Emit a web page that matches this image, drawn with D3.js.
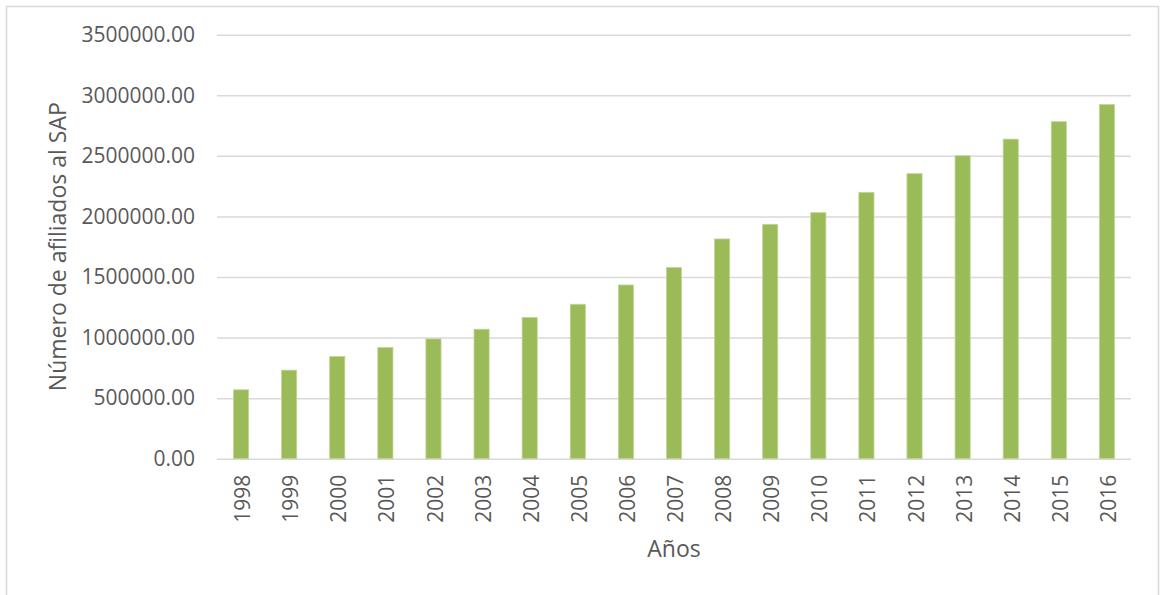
<!DOCTYPE html>
<html>
<head>
<meta charset="utf-8">
<script src="https://cdn.jsdelivr.net/npm/d3@7/dist/d3.min.js"></script>
<style>
  html, body { margin: 0; padding: 0; background: #ffffff; }
  svg { display: block; }
  text { font-family: "Open Sans", "Noto Sans", sans-serif; fill: #595959; }
</style>
</head>
<body>
<svg id="chart" width="1160" height="595"></svg>
<script>
// Afiliados al SAP por año
const years = ["1998","1999","2000","2001","2002","2003","2004","2005","2006","2007",
               "2008","2009","2010","2011","2012","2013","2014","2015","2016"];
const afiliados = [569000, 731000, 844000, 918000, 989000, 1069000, 1166000, 1275000,
                   1434000, 1578000, 1814000, 1935000, 2031000, 2199000, 2353000,
                   2501000, 2638000, 2782000, 2924000];
const yTicks = [0, 500000, 1000000, 1500000, 2000000, 2500000, 3000000, 3500000];

const svg = d3.select("#chart");

// chart area frame (runs past the bottom edge)
svg.append("rect")
  .attr("x", 6.5).attr("y", 6.5)
  .attr("width", 1152).attr("height", 620)
  .attr("fill", "#ffffff")
  .attr("stroke", "#d9d9d9")
  .attr("stroke-width", 1.5);

const plot = { left: 217, right: 1131, top: 34.7, bottom: 458.7 };

const x = d3.scaleBand().domain(years).range([plot.left, plot.right]).padding(0);
const y = d3.scaleLinear().domain([0, 3500000]).range([plot.bottom, plot.top]);

// gridlines + y tick labels
const yAxis = d3.axisLeft(y)
  .tickValues(yTicks)
  .tickSize(-(plot.right - plot.left))
  .tickPadding(22)
  .tickFormat(d3.format(".2f"));

const gy = svg.append("g")
  .attr("transform", `translate(${plot.left},0)`)
  .call(yAxis);
gy.select(".domain").remove();
gy.selectAll(".tick line").attr("stroke", "#d9d9d9").attr("stroke-width", 1.5);
gy.selectAll(".tick text")
  .style("font-family", "'Open Sans', sans-serif")
  .style("font-size", "21px")
  .attr("fill", "#595959");

// bars
const barW = x.bandwidth() * 0.315;
svg.append("g").selectAll("rect")
  .data(afiliados)
  .join("rect")
  .attr("x", (d, i) => x(years[i]) + (x.bandwidth() - barW) / 2)
  .attr("y", d => y(d))
  .attr("width", barW)
  .attr("height", d => y(0) - y(d))
  .attr("fill", "#9bbb59")
  .attr("stroke", "#c3d69b")
  .attr("stroke-width", 0.8);

// x axis labels (rotated)
const xAxis = d3.axisBottom(x).tickSize(0).tickPadding(0);
const gx = svg.append("g")
  .attr("transform", `translate(0,${plot.bottom})`)
  .call(xAxis);
gx.select(".domain").remove();
gx.selectAll(".tick text")
  .style("font-family", "'Open Sans', sans-serif")
  .style("font-size", "21px")
  .attr("fill", "#595959")
  .attr("text-anchor", "end")
  .attr("transform", "translate(1.5,16) rotate(-90)")
  .attr("x", 0)
  .attr("y", 0)
  .attr("dy", "0.36em");

// axis titles
svg.append("text")
  .attr("x", (plot.left + plot.right) / 2)
  .attr("y", 557)
  .attr("text-anchor", "middle")
  .style("font-size", "23px")
  .text("Años");

svg.append("text")
  .attr("transform", `translate(66,${(plot.top + plot.bottom) / 2}) rotate(-90)`)
  .attr("text-anchor", "middle")
  .style("font-size", "23px")
  .text("Número de afiliados al SAP");
</script>
</body>
</html>
